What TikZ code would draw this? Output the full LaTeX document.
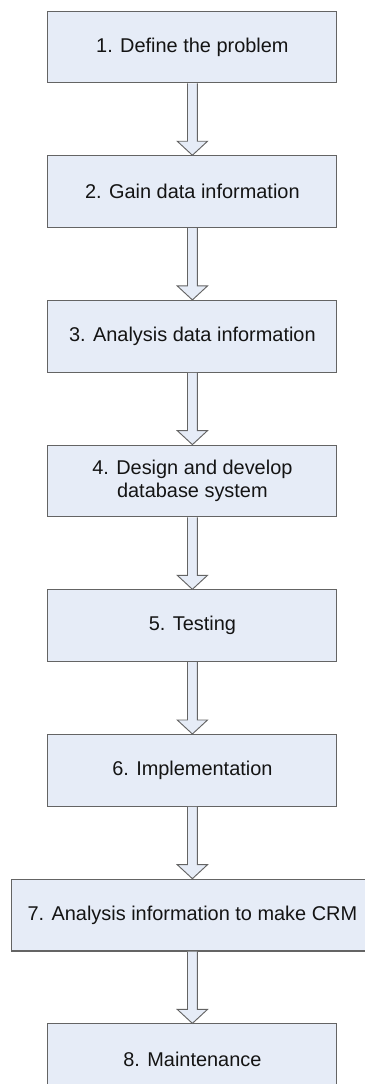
\documentclass[tikz,border=0pt]{standalone}
\usepackage{fontspec}
\setmainfont{Liberation Sans}
\definecolor{stepfill}{RGB}{230, 236, 247}
\definecolor{stepline}{RGB}{100, 100, 100}
\definecolor{steptext}{RGB}{20, 20, 20}
\usetikzlibrary{calc, positioning}

\tikzset{
  stepbox/.style={draw=stepline, fill=stepfill, line width=0.8pt, minimum width=7.65cm, minimum height=1.9cm, align=center, text=steptext, font=\fontsize{15}{17.5}\selectfont},
  flowarrow/.style={draw=stepline, fill=stepfill, line width=0.7pt,
    to path={($(\tikztostart.south)+(-0.13,0)$) -- ($(\tikztotarget.north)+(-0.13,0.37)$) -- ++(-0.27,0) -- (\tikztotarget.north) -- ($(\tikztotarget.north)+(0.4,0.37)$) -- ++(-0.27,0) -- ($(\tikztostart.south)+(0.13,0)$)}}
}

\begin{document}
\begin{tikzpicture}
  \useasboundingbox (0, 0) rectangle (9.657, -28.68);

  % The steps
  \node[stepbox] (define) at (5.09, -1.243) {1. Define the problem};
  \node[stepbox, below=1.9cm of define] (gain) {2. Gain data information};
  \node[stepbox, below=1.9cm of gain] (analysis) {3. Analysis data information};
  \node[stepbox, below=1.9cm of analysis] (design) {4. Design and develop\\database system};
  \node[stepbox, below=1.9cm of design] (testing) {5. Testing};
  \node[stepbox, below=1.9cm of testing] (implement) {6. Implementation};
  \node[stepbox, minimum width=9.58cm, below=1.9cm of implement] (crm) {7. Analysis information to make CRM};
  \node[stepbox, below=1.9cm of crm] (maintain) {8. Maintenance};

  % Block arrows between the steps
  \draw[flowarrow] (define) to (gain);
  \draw[flowarrow] (gain) to (analysis);
  \draw[flowarrow] (analysis) to (design);
  \draw[flowarrow] (design) to (testing);
  \draw[flowarrow] (testing) to (implement);
  \draw[flowarrow] (implement) to (crm);
  \draw[flowarrow] (crm) to (maintain);
\end{tikzpicture}
\end{document}
